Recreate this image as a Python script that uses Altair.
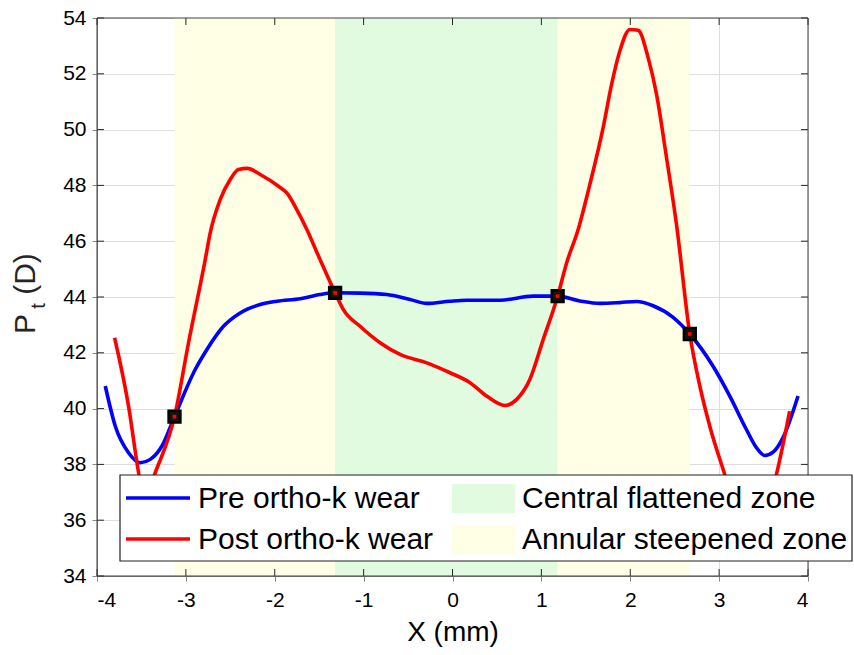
import altair as alt
import pandas as pd

# Tangential power profiles across the cornea (X in mm, Pt in dioptres)
pre_x = [-3.907, -3.794, -3.645, -3.513, -3.401, -3.269, -3.128, -2.895, -2.763, -2.577,
         -2.389, -2.164, -1.976, -1.714, -1.490, -1.321, -1.040, -0.740, -0.478, -0.287,
         -0.028, 0.163, 0.534, 0.905, 1.183, 1.433, 1.658, 1.883, 2.071, 2.257,
         2.482, 2.670, 2.932, 3.120, 3.307, 3.420, 3.513, 3.607, 3.719, 3.888]
pre_y = [40.81, 39.37, 38.42, 38.06, 38.18, 38.66, 39.71, 41.40, 42.12, 42.95,
         43.43, 43.73, 43.85, 43.94, 44.09, 44.15, 44.14, 44.09, 43.91, 43.77,
         43.85, 43.885, 43.885, 44.03, 44.03, 43.86, 43.77, 43.80, 43.84, 43.685,
         43.27, 42.675, 41.52, 40.45, 39.25, 38.60, 38.32, 38.44, 38.96, 40.45]

post_x = [-3.802, -3.645, -3.532, -3.470, -3.345, -3.128, -2.970, -2.782, -2.726, -2.614,
          -2.501, -2.408, -2.307, -2.164, -1.958, -1.864, -1.752, -1.639, -1.490, -1.321,
          -1.228, -1.040, -0.815, -0.590, -0.290, -0.028, 0.197, 0.384, 0.590, 0.722,
          0.871, 1.021, 1.183, 1.284, 1.414, 1.546, 1.695, 1.790, 1.883, 1.996,
          2.089, 2.201, 2.296, 2.408, 2.520, 2.670, 2.783, 2.895, 3.063, 3.200,
          3.350, 3.500, 3.645, 3.794]
post_y = [42.54, 40.09, 37.70, 36.70, 37.70, 39.71, 42.36, 45.34, 46.30, 47.49,
          48.21, 48.57, 48.61, 48.39, 47.97, 47.73, 47.13, 46.42, 45.34, 44.15,
          43.55, 42.95, 42.36, 41.94, 41.64, 41.285, 40.93, 40.45, 40.11, 40.33,
          41.05, 42.48, 44.03, 45.22, 46.42, 48.04, 50.07, 51.62, 52.82, 53.59,
          53.56, 52.58, 51.26, 49.00, 46.61, 42.675, 40.81, 39.37, 37.64, 36.30,
          35.60, 36.00, 37.64, 39.91]

# Points where the two profiles cross (zone boundaries)
cross_x = [-3.128, -1.321, 1.183, 2.670]
cross_y = [39.71, 44.15, 44.03, 42.675]

zone_name = ["Annular steepened zone", "Central flattened zone", "Annular steepened zone"]
zone_start = [-3.128, -1.321, 1.183]
zone_end = [-1.321, 1.183, 2.670]

x_ticks = [-4, -3, -2, -1, 0, 1, 2, 3, 4]
y_ticks = [34, 36, 38, 40, 42, 44, 46, 48, 50, 52, 54]

W, H = 711, 558
FONT = "Liberation Sans"
INK = "#262626"
BLUE = "#0000ff"
RED = "#ff0000"
GREEN_ZONE = "#e0fbe0"
YELLOW_ZONE = "#ffffe5"

lines = pd.concat([
    pd.DataFrame({"x": pre_x, "y": pre_y, "series": "Pre ortho-k wear"}),
    pd.DataFrame({"x": post_x, "y": post_y, "series": "Post ortho-k wear"}),
])
zones = pd.DataFrame({"zone": zone_name, "x0": zone_start, "x1": zone_end})
cross = pd.DataFrame({"x": cross_x, "y": cross_y})
xt = pd.DataFrame({"t": x_ticks})
yt = pd.DataFrame({"t": y_ticks})
one = pd.DataFrame({"k": [0]})

xscale = alt.Scale(domain=[-4, 4], nice=False, zero=False)
yscale = alt.Scale(domain=[34, 54], nice=False, zero=False)

# plain hyphen-minus in tick labels
plain = "'' + datum.value"

x_axis = alt.Axis(values=x_ticks, title="X (mm)", labelExpr=plain, labelFontSize=21,
                  labelPadding=8, titleFontSize=28, titlePadding=8,
                  titleFontWeight="normal")
y_axis = alt.Axis(values=y_ticks, title="", labelExpr=plain, labelFontSize=21, labelPadding=6)

zone_layer = alt.Chart(zones).mark_rect().encode(
    x=alt.X("x0:Q", scale=xscale, axis=x_axis),
    x2="x1:Q",
    y=alt.value(0),
    y2=alt.value(H),
    color=alt.Color("zone:N", legend=None,
                    scale=alt.Scale(domain=["Central flattened zone", "Annular steepened zone"],
                                    range=[GREEN_ZONE, YELLOW_ZONE])),
)

def profile(name, colour):
    return alt.Chart(lines).transform_filter(alt.datum.series == name).mark_line(
        color=colour, strokeWidth=3.6, interpolate="monotone"
    ).encode(
        x=alt.X("x:Q", scale=xscale),
        y=alt.Y("y:Q", scale=yscale, axis=y_axis),
    )

pre_layer = profile("Pre ortho-k wear", BLUE)
post_layer = profile("Post ortho-k wear", RED)

marker_layer = alt.Chart(cross).mark_square(
    size=140, color="#141408", stroke="black", strokeWidth=2.5, opacity=1
).encode(x=alt.X("x:Q", scale=xscale), y=alt.Y("y:Q", scale=yscale))
marker_core = alt.Chart(cross).mark_square(size=14, color=RED, opacity=1).encode(
    x=alt.X("x:Q", scale=xscale), y=alt.Y("y:Q", scale=yscale))

# Inward ticks on all four sides of the box
TL = 7
tick_bottom = alt.Chart(xt).mark_rule(color=INK, strokeWidth=1).encode(
    x=alt.X("t:Q", scale=xscale), y=alt.value(H), y2=alt.value(H - TL))
tick_top = alt.Chart(xt).mark_rule(color=INK, strokeWidth=1).encode(
    x=alt.X("t:Q", scale=xscale), y=alt.value(0), y2=alt.value(TL))
tick_left = alt.Chart(yt).mark_rule(color=INK, strokeWidth=1).encode(
    y=alt.Y("t:Q", scale=yscale), x=alt.value(0), x2=alt.value(TL))
tick_right = alt.Chart(yt).mark_rule(color=INK, strokeWidth=1).encode(
    y=alt.Y("t:Q", scale=yscale), x=alt.value(W), x2=alt.value(W - TL))

frame = alt.Chart(one).mark_rect(fill=None, stroke="#404040", strokeWidth=1).encode(
    x=alt.value(0), x2=alt.value(W), y=alt.value(0), y2=alt.value(H))

# Legend box
LF = 30
legend_box = alt.Chart(one).mark_rect(fill="white", stroke="#202020", strokeWidth=1.2).encode(
    x=alt.value(23), x2=alt.value(755), y=alt.value(457), y2=alt.value(543))
leg_pre = alt.Chart(one).mark_rule(color=BLUE, strokeWidth=3.6).encode(
    x=alt.value(29), x2=alt.value(93), y=alt.value(480))
leg_post = alt.Chart(one).mark_rule(color=RED, strokeWidth=3.6).encode(
    x=alt.value(29), x2=alt.value(93), y=alt.value(521))
leg_green = alt.Chart(one).mark_rect(color=GREEN_ZONE).encode(
    x=alt.value(355), x2=alt.value(418), y=alt.value(466), y2=alt.value(495))
leg_yellow = alt.Chart(one).mark_rect(color=YELLOW_ZONE).encode(
    x=alt.value(355), x2=alt.value(418), y=alt.value(507), y2=alt.value(536))

def label(txt, x, y, size=LF, **kw):
    return alt.Chart(one).mark_text(text=txt, font=FONT, fontSize=size, color="black",
                                    align="left", baseline="middle", **kw).encode(
        x=alt.value(x), y=alt.value(y))

leg_texts = [
    label("Pre ortho-k wear", 101, 481),
    label("Post ortho-k wear", 101, 522),
    label("Central flattened zone", 425, 481),
    label("Annular steepened zone", 425, 522),
]

# Y-axis title with a subscript t
def ytitle(txt, x, y, size):
    return alt.Chart(one).mark_text(text=txt, font=FONT, fontSize=size, color=INK,
                                    angle=270, align="center", baseline="alphabetic").encode(
        x=alt.value(x), y=alt.value(y))

y_title = [
    ytitle("P", -62, 306, 30),
    ytitle("t", -52, 288, 20),
    ytitle("(D)", -62, 256, 30),
]

chart = alt.layer(
    zone_layer, pre_layer, post_layer, marker_layer, marker_core,
    tick_bottom, tick_top, tick_left, tick_right, frame,
    legend_box, leg_pre, leg_post, leg_green, leg_yellow, *leg_texts, *y_title,
).resolve_scale(color="independent").properties(
    width=W, height=H,
    autosize=alt.AutoSizeParams(type="none"),
    padding={"left": 97, "top": 18, "right": 46, "bottom": 79},
).configure_view(stroke=None).configure_axis(
    grid=False, domain=False, ticks=False, labelFont=FONT, titleFont=FONT,
    labelColor=INK, titleColor=INK,
).configure(background="white")

chart.save("out.html", embed_options={"renderer": "svg", "actions": False})
